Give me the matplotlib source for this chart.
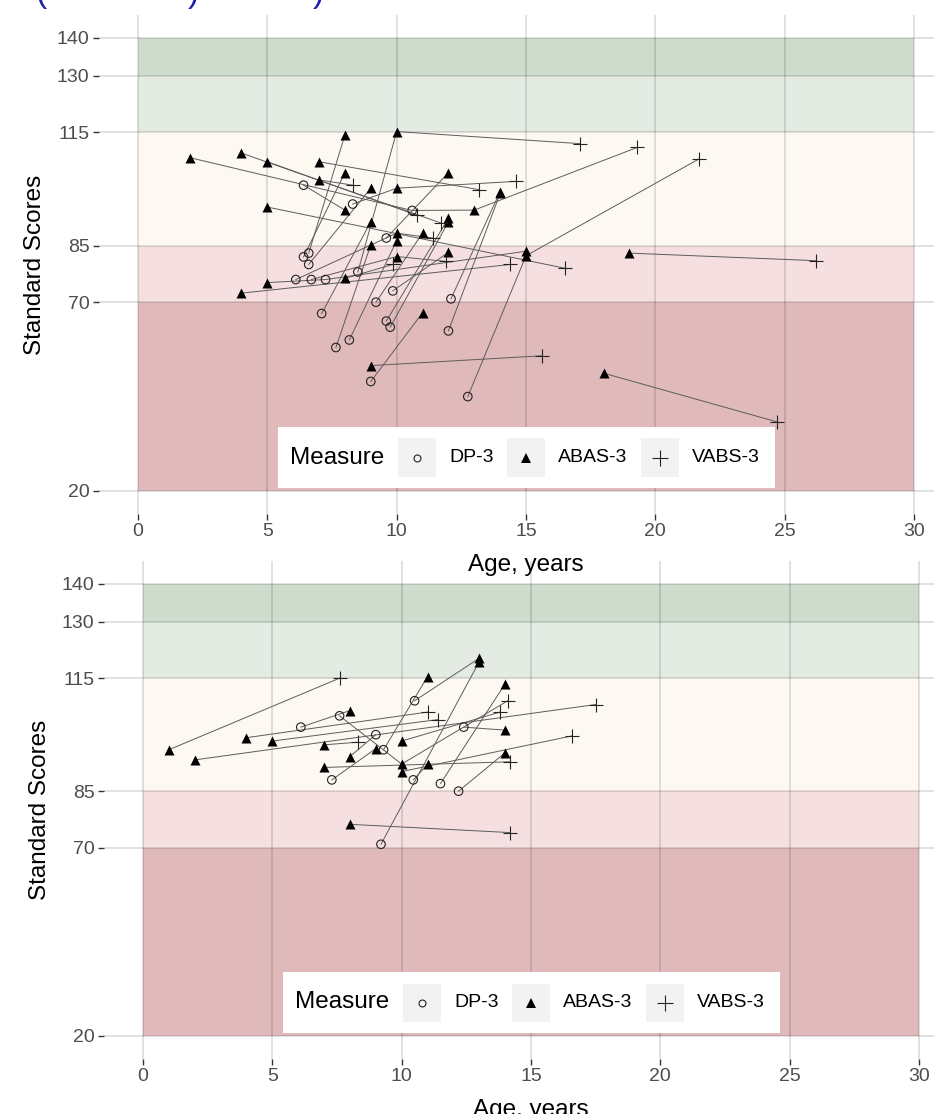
import numpy as np
import matplotlib
matplotlib.use("Agg")
import matplotlib.pyplot as plt
from matplotlib.patches import Rectangle

plt.rcParams['font.family'] = ['Liberation Sans', 'DejaVu Sans']

# ---------------------------------------------------------
# Data: one row per assessment (subject id, measure, age, score)
# ---------------------------------------------------------
top_id = [1, 1, 1, 1, 2, 2, 3, 3, 4, 4, 5, 5, 6, 6, 7, 7, 7, 8, 8, 8,
          9, 9, 10, 10, 11, 11, 12, 12, 13, 13, 14, 14, 15, 15, 15,
          16, 16, 17, 17, 17, 18, 18, 19, 19, 20, 20, 21, 21, 22, 22,
          23, 23, 24, 24, 25, 25, 26, 26, 27, 27, 28, 28, 29, 29,
          30, 30, 30, 31, 31, 31, 32, 32]
top_measure = ['A', 'D', 'A', 'V', 'A', 'V', 'A', 'V', 'A', 'V', 'A', 'V',
               'D', 'A', 'D', 'A', 'V', 'D', 'A', 'V', 'D', 'A', 'A', 'V',
               'A', 'V', 'A', 'V', 'A', 'V', 'A', 'V', 'A', 'D', 'A',
               'D', 'A', 'D', 'A', 'V', 'D', 'A', 'D', 'A', 'D', 'A',
               'D', 'A', 'D', 'A', 'D', 'A', 'D', 'A', 'D', 'A', 'D', 'A',
               'D', 'A', 'D', 'A', 'D', 'A', 'D', 'A', 'V', 'D', 'A', 'V',
               'A', 'V']
top_age = [2, 10.6, 13, 19.3, 4, 11.7, 5, 10.8, 7, 13.2, 7, 8.3,
           6.6, 8, 8.5, 10, 17.1, 12.75, 15, 21.7, 9, 11, 9, 15.6,
           18, 24.7, 19, 26.2, 5, 16.5, 4, 14.4, 5, 7.25, 15,
           6.4, 8, 8.3, 10, 14.6, 6.4, 8, 6.6, 9, 9.6, 12,
           9.85, 12, 12.1, 14, 12, 14, 9.6, 12, 9.75, 12, 9.2, 11,
           8.17, 10, 7.1, 9, 7.65, 9, 6.1, 10, 11.4, 6.7, 10, 11.9,
           8, 9.85]
top_score = [108.3, 94.3, 94.4, 111, 109.5, 91, 107.2, 93, 107.2, 99.8, 102.4, 101,
             83, 114.3, 78, 115.2, 112, 45, 82.3, 108, 49, 67.2, 53.2, 55.8,
             51.2, 38.3, 83, 81, 95.2, 79, 72.4, 80, 75.2, 76, 83.5,
             101, 94.4, 96, 100.2, 102, 82, 104.3, 80, 100.2, 87, 104.3,
             73, 83.2, 70.9, 99.3, 62.4, 98.8, 65, 92.2, 63.4, 91.3, 70, 88.3,
             60, 86.3, 67, 91.3, 58, 85.2, 76, 88.3, 87, 76, 82.1, 80.8,
             76.3, 80]

bot_id = [1, 1, 2, 2, 3, 3, 4, 4, 5, 5, 6, 6, 6, 7, 7, 8, 8, 9, 9,
          10, 10, 11, 11, 12, 12, 13, 13, 14, 14, 15, 15, 16, 16,
          17, 17, 18, 18, 19, 19, 20, 20]
bot_measure = ['A', 'V', 'A', 'V', 'A', 'V', 'A', 'V', 'D', 'A', 'D', 'A', 'V',
               'A', 'V', 'A', 'D', 'A', 'V', 'D', 'A', 'D', 'A', 'D', 'A',
               'D', 'A', 'A', 'V', 'D', 'A', 'D', 'A', 'D', 'A', 'D', 'A',
               'A', 'V', 'A', 'V']
bot_age = [1, 7.6, 2, 17.5, 4, 11, 5, 11.4, 6.1, 8, 7.6, 10, 14.1,
           7, 8.3, 8, 9, 10, 13.8, 12.4, 14, 10.5, 13, 9.3, 11,
           9.2, 13, 8, 14.2, 11.5, 14, 12.2, 14, 10.45, 11, 7.3, 9,
           7, 14.2, 10, 16.6]
bot_score = [96, 115, 93.3, 108, 99.2, 106, 98.3, 104, 102, 106.4, 105, 92.2, 109,
             97.3, 98, 94.2, 100, 98.3, 106, 102, 101.2, 109, 120.3, 96, 115.4,
             70.9, 119.4, 76.2, 74, 87, 113.5, 85, 95.2, 88, 92.1, 88, 96.3,
             91.3, 92.8, 90.2, 99.7]

measure_codes = ['D', 'A', 'V']
measure_labels = ['DP-3', 'ABAS-3', 'VABS-3']

# score bands (lower, upper) and fills
band_lo = [20, 70, 85, 115, 130]
band_hi = [70, 85, 115, 130, 140]
band_col = ['#e0b9ba', '#f6dfe0', '#fdf9f2', '#e3ebe3', '#cddccd']

y_breaks = [20, 70, 85, 115, 130, 140]
x_breaks = [0, 5, 10, 15, 20, 25, 30]

W, H = 934, 1114
fig = plt.figure(figsize=(W / 100, H / 100), dpi=100)


def fx(px):
    return px / W


def fy(py):
    return 1 - py / H


marker_style = {
    'D': dict(marker='o', s=38, facecolors='none', edgecolors='#222222', linewidths=0.8),
    'A': dict(marker='^', s=52, color='black', linewidths=0),
    'V': dict(marker='+', s=95, color='#222222', linewidths=0.8),
}


def draw_panel(ax, ids, meas, ages, scores):
    ids = np.array(ids)
    meas = np.array(meas)
    ages = np.array(ages, dtype=float)
    scores = np.array(scores, dtype=float)

    ax.patch.set_visible(False)
    for lo, hi, c in zip(band_lo, band_hi, band_col):
        ax.add_patch(Rectangle((0, lo), 30, hi - lo, facecolor=c,
                               edgecolor='none', zorder=0))
    for xb in x_breaks:
        ax.axvline(xb, color='black', alpha=0.13, lw=1.3, zorder=1)
    for yb in y_breaks:
        ax.axhline(yb, color='black', alpha=0.13, lw=1.3, zorder=1)

    # connect each subject's assessments in age order
    for g in np.unique(ids):
        m = ids == g
        order = np.argsort(ages[m])
        ax.plot(ages[m][order], scores[m][order], color='#5c5c5c',
                lw=0.7, zorder=2)

    for code in measure_codes:
        m = meas == code
        ax.scatter(ages[m], scores[m], zorder=3, **marker_style[code])

    ax.set_xlim(-1.5, 31.5)
    ax.set_ylim(14, 146)
    ax.set_xticks(x_breaks)
    ax.set_yticks(y_breaks)
    ax.tick_params(labelsize=14, labelcolor='#4d4d4d', color='#333333',
                   length=4, width=1, pad=3)
    for sp in ax.spines.values():
        sp.set_visible(False)
    ax.set_xlabel('Age, years', fontsize=17.5, labelpad=10)
    ax.set_ylabel('Standard Scores', fontsize=17.5, labelpad=8)


def draw_legend(x0_px, y20_px):
    # x0_px: pixel of age 0, y20_px: pixel of score 20
    left = x0_px + 140
    right = x0_px + 637
    bottom = y20_px - 3
    top = bottom - 61
    fig.patches.append(Rectangle((fx(left), fy(bottom)), fx(right - left),
                                 (bottom - top) / H, transform=fig.transFigure,
                                 facecolor='white', edgecolor='none', zorder=5))
    cy = (top + bottom) / 2
    fig.text(fx(left + 12), fy(cy), 'Measure', fontsize=17.5, va='center',
             ha='left', zorder=6)
    key_x = [x0_px + 260, x0_px + 369, x0_px + 503]
    text_x = [x0_px + 311, x0_px + 420, x0_px + 554]
    key_m = [dict(marker='o', ms=5, mfc='none', mec='#222222', mew=0.8),
             dict(marker='^', ms=7, color='black', mew=0),
             dict(marker='+', ms=11, color='#222222', mew=0.8)]
    for kx, tx, lab, km in zip(key_x, text_x, measure_labels, key_m):
        fig.patches.append(Rectangle((fx(kx), fy(cy + 19)), fx(38), 38 / H,
                                     transform=fig.transFigure,
                                     facecolor='#f2f2f2', edgecolor='none',
                                     zorder=6))
        fig.lines.append(plt.Line2D([fx(kx + 19)], [fy(cy)],
                                    transform=fig.transFigure, zorder=7,
                                    linestyle='none', **km))
        fig.text(fx(tx), fy(cy), lab, fontsize=14, va='center', ha='left',
                 zorder=7)


# bottom panel first so the top panel's x title sits above it
ax2 = fig.add_axes([fx(104.2), fy(1058.6), fx(853.6), 497.2 / H])
draw_panel(ax2, bot_id, bot_measure, bot_age, bot_score)
draw_legend(143, 1036)

# top panel: age 0 at px 138, panel spans px 15..514 vertically
ax1 = fig.add_axes([fx(99.2), fy(513.6), fx(853.6), 498.3 / H])
draw_panel(ax1, top_id, top_measure, top_age, top_score)
draw_legend(138, 491)

# title above, cut off by the crop
for px, ch in zip([36, 188, 313], ['(', ')', ')']):
    fig.text(fx(px), fy(2), ch, fontsize=24, color='#1f1fa8', va='baseline',
             ha='left')

fig.savefig('out.png', dpi=100)
